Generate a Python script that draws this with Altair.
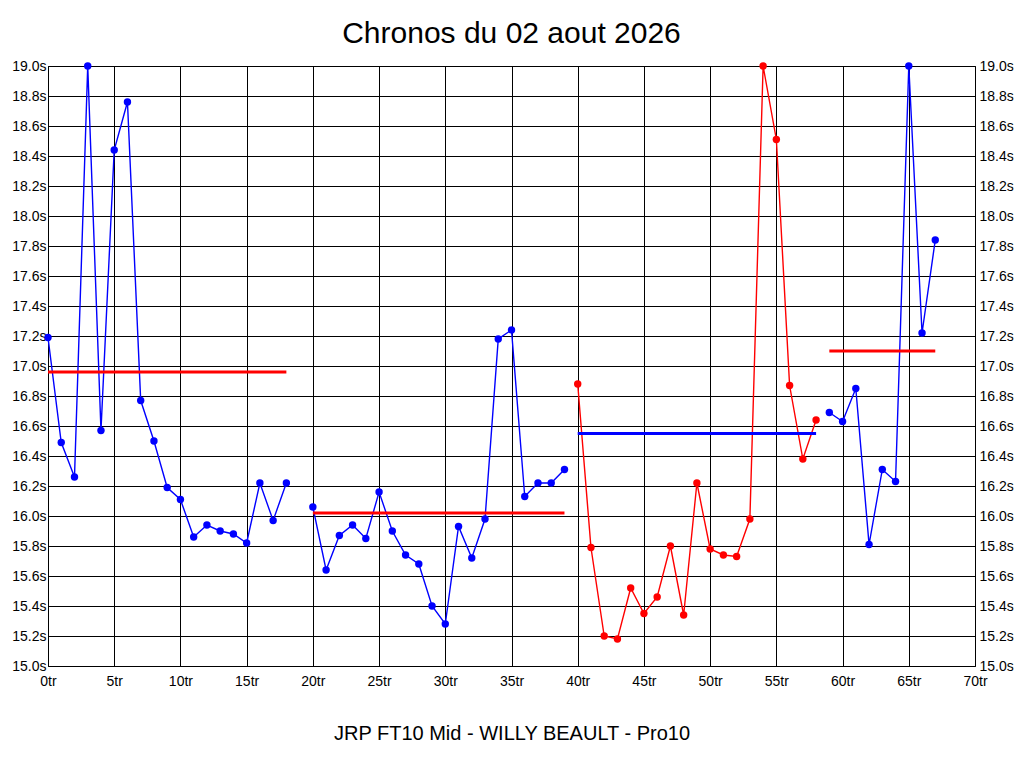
import altair as alt
import pandas as pd

# ---- data ----
seg1_laps = [0, 1, 2, 3, 4, 5, 6, 7, 8, 9, 10, 11, 12, 13, 14, 15, 16, 17, 18]
seg1_times = [17.19, 16.49, 16.26, 19.00, 16.57, 18.44, 18.76, 16.77, 16.50, 16.19,
              16.11, 15.86, 15.94, 15.90, 15.88, 15.82, 16.22, 15.97, 16.22]

seg2_laps = [20, 21, 22, 23, 24, 25, 26, 27, 28, 29, 30, 31, 32, 33, 34, 35, 36, 37, 38, 39]
seg2_times = [16.06, 15.64, 15.87, 15.94, 15.85, 16.16, 15.90, 15.74, 15.68, 15.40,
              15.28, 15.93, 15.72, 15.98, 17.18, 17.24, 16.13, 16.22, 16.22, 16.31]

seg3_laps = [40, 41, 42, 43, 44, 45, 46, 47, 48, 49, 50, 51, 52, 53, 54, 55, 56, 57, 58]
seg3_times = [16.88, 15.79, 15.20, 15.18, 15.52, 15.35, 15.46, 15.80, 15.34, 16.22,
              15.78, 15.74, 15.73, 15.98, 19.00, 18.51, 16.87, 16.38, 16.64]

seg4_laps = [59, 60, 61, 62, 63, 64, 65, 66, 67]
seg4_times = [16.69, 16.63, 16.85, 15.81, 16.31, 16.23, 19.00, 17.22, 17.84]

segments = ["s1", "s2", "s3", "s4"]
avg_start = [0, 20, 40, 59]
avg_end = [18, 39, 58, 67]
avg_value = [16.96, 16.02, 16.55, 17.10]

x_ticks = [0, 5, 10, 15, 20, 25, 30, 35, 40, 45, 50, 55, 60, 65, 70]
y_ticks = [15.0, 15.2, 15.4, 15.6, 15.8, 16.0, 16.2, 16.4, 16.6, 16.8, 17.0,
           17.2, 17.4, 17.6, 17.8, 18.0, 18.2, 18.4, 18.6, 18.8, 19.0]

title_text = "Chronos du 02 aout 2026"
x_title = "JRP FT10 Mid - WILLY BEAULT - Pro10"

# ---- tables ----
rows = []
for seg, laps, times in zip(segments,
                            [seg1_laps, seg2_laps, seg3_laps, seg4_laps],
                            [seg1_times, seg2_times, seg3_times, seg4_times]):
    for l, t in zip(laps, times):
        rows.append({"lap": l, "time": t, "segment": seg})
laps_df = pd.DataFrame(rows)
avg_df = pd.DataFrame({"segment": segments, "start": avg_start,
                       "end": avg_end, "value": avg_value})

BLUE = "#0000ff"
RED = "#ff0000"
FONT = "Liberation Sans"

line_color = alt.Color("segment:N", legend=None,
                       scale=alt.Scale(domain=segments, range=[BLUE, BLUE, RED, BLUE]))
avg_color = alt.Color("segment:N", legend=None,
                      scale=alt.Scale(domain=segments, range=[RED, RED, BLUE, RED]))

xscale = alt.Scale(domain=[0, 70], nice=False, zero=False)
yscale = alt.Scale(domain=[15, 19], nice=False, zero=False)

x_axis = alt.Axis(values=x_ticks, labelExpr="datum.value + 'tr'",
                  title=x_title, titleFontSize=20, titleFont=FONT,
                  titleFontWeight="normal", titleColor="black",
                  titlePadding=35, labelPadding=8,
                  grid=True, gridColor="black", gridOpacity=1, gridWidth=1,
                  ticks=False, domain=False, labelFlush=False)

y_left = alt.Y("time:Q", scale=yscale,
               axis=alt.Axis(values=y_ticks, format=".1f", labelExpr="datum.label + 's'",
                             orient="left", title=None, labelPadding=2,
                             grid=True, gridColor="black", gridOpacity=1, gridWidth=1,
                             ticks=False, domain=False, labelFlush=False))
y_right = alt.Y("time:Q", scale=yscale,
                axis=alt.Axis(values=y_ticks, format=".1f", labelExpr="datum.label + 's'",
                              orient="right", title=None, labelPadding=4,
                              grid=False, ticks=False, domain=False, labelFlush=False))

lines = alt.Chart(laps_df).mark_line(strokeWidth=1.4).encode(
    x=alt.X("lap:Q", scale=xscale, axis=x_axis), y=y_left,
    color=line_color, detail="segment:N", order="lap:Q")

points = alt.Chart(laps_df).mark_circle(size=55, opacity=1).encode(
    x=alt.X("lap:Q", scale=xscale, axis=x_axis), y=y_right, color=line_color)

avgs = alt.Chart(avg_df).mark_rule(strokeWidth=3).encode(
    x=alt.X("start:Q", scale=xscale, axis=x_axis), x2="end:Q",
    y=alt.Y("value:Q", scale=yscale, axis=None), color=avg_color)

chart = alt.layer(lines, avgs, points).resolve_axis(y="independent").resolve_scale(
    color="independent"
).properties(
    width=927, height=600,
    title=alt.TitleParams(title_text, fontSize=30, font=FONT, fontWeight="normal",
                          color="black", anchor="middle", offset=10),
    autosize=alt.AutoSizeParams(type="none"),
    padding={"left": 40, "top": 58, "right": 41, "bottom": 90},
    background="white",
).configure_view(stroke="black", strokeWidth=1).configure_axis(
    labelFont=FONT, labelFontSize=14, labelColor="black"
)

chart.save("out.html", embed_options={"renderer": "svg", "actions": False})
